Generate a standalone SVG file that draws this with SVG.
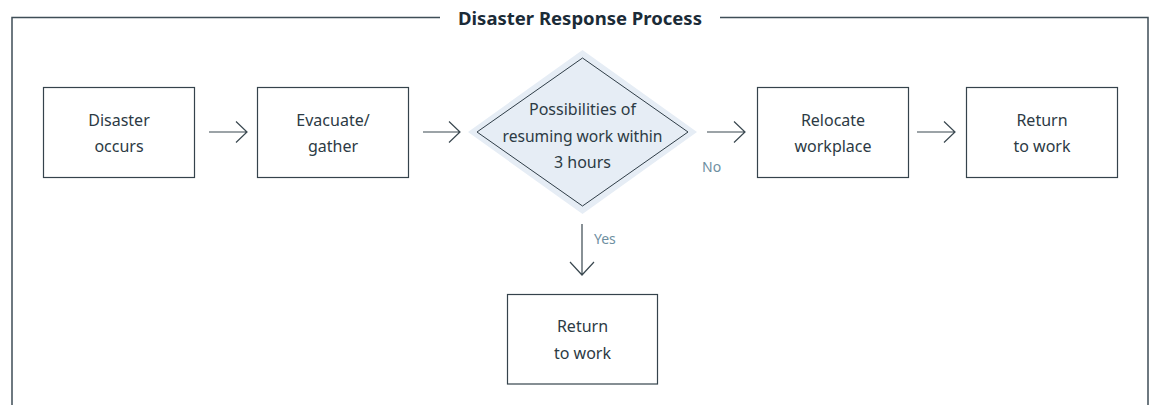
<svg xmlns="http://www.w3.org/2000/svg" width="1156" height="405" viewBox="0 0 1156 405">
<defs>
<style>
.frame{fill:none;stroke:#3f4e57;stroke-width:1.5}
.box{fill:#ffffff;stroke:#35434c;stroke-width:1.2}
.dia-bg{fill:#e6edf5;stroke:none}
.dia{fill:none;stroke:#2f3d47;stroke-width:1}
.lbl{font-family:"Noto Sans","Open Sans",sans-serif;font-size:16px;fill:#2c3a44;text-anchor:middle}
.title{font-family:"Noto Sans","Open Sans",sans-serif;font-size:18.5px;font-weight:bold;fill:#1b2b37;text-anchor:middle}
.cond{font-family:"Noto Sans","Open Sans",sans-serif;font-size:14px;fill:#6e8fa1}
.conn{fill:none;stroke:#3a4850;stroke-width:1.2}
</style>
</defs>
<rect width="1156" height="405" fill="#ffffff"/>
<g id="frame">
<path class="frame" d="M440 17.5 H12 V405"/>
<path class="frame" d="M720 17.5 H1148 V405"/>
<text class="title" x="580" y="25">Disaster Response Process</text>
</g>
<g id="n1">
<rect class="box" x="43.5" y="87.5" width="151" height="90"/>
<text class="lbl" x="119" y="125.5">Disaster</text>
<text class="lbl" x="119" y="152">occurs</text>
</g>
<g id="n2">
<rect class="box" x="257.5" y="87.5" width="151" height="90"/>
<text class="lbl" x="333" y="125.5">Evacuate/</text>
<text class="lbl" x="333" y="152">gather</text>
</g>
<g id="n3">
<polygon class="dia-bg" points="582.5,50 697,132 582.5,214 468,132"/>
<polygon class="dia" points="582.5,58 688,132 582.5,206 477,132"/>
<text class="lbl" x="582.5" y="115">Possibilities of</text>
<text class="lbl" x="582.5" y="141.5" textLength="160" lengthAdjust="spacingAndGlyphs">resuming work within</text>
<text class="lbl" x="582.5" y="168">3 hours</text>
</g>
<g id="n4">
<rect class="box" x="757.5" y="87.5" width="151" height="90"/>
<text class="lbl" x="833" y="125.5">Relocate</text>
<text class="lbl" x="833" y="152">workplace</text>
</g>
<g id="n5">
<rect class="box" x="966.5" y="87.5" width="151" height="90"/>
<text class="lbl" x="1042" y="125.5">Return</text>
<text class="lbl" x="1042" y="152">to work</text>
</g>
<g id="n6">
<rect class="box" x="507.5" y="294.5" width="150" height="89.5"/>
<text class="lbl" x="582.5" y="332">Return</text>
<text class="lbl" x="582.5" y="358.5">to work</text>
</g>
<g id="connectors">
<path class="conn" d="M209 132 H247 M236 121.5 L247 132 L236 142.5"/>
<path class="conn" d="M423 132 H460 M449 121.5 L460 132 L449 142.5"/>
<path class="conn" d="M707 132 H745 M734 121.5 L745 132 L734 142.5"/>
<path class="conn" d="M917 132 H955 M944 121.5 L955 132 L944 142.5"/>
<path class="conn" d="M582 224 V275 M570 262 L582 275 L594 262"/>
<text class="cond" x="702" y="172">No</text>
<text class="cond" x="594" y="244">Yes</text>
</g>
</svg>
